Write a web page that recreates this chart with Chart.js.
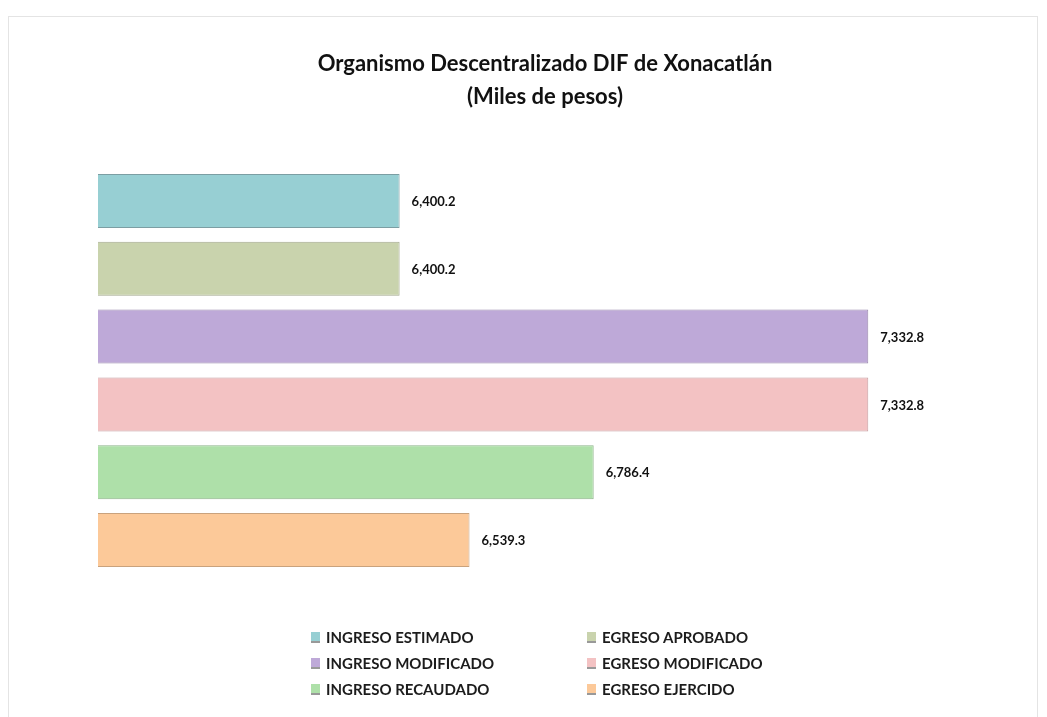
<!DOCTYPE html>
<html>
<head>
<meta charset="utf-8">
<script src="https://cdn.jsdelivr.net/npm/chart.js@4/dist/chart.umd.min.js"></script>
<style>
  body { margin: 0; background: #fff; }
  #wrap { position: relative; width: 1047px; height: 717px; }
  #frame { position: absolute; left: 8px; top: 16px; width: 1030px; height: 710px; border: 1px solid #e4e4e4; box-sizing: border-box; }
  #chart { position: absolute; left: 0; top: 0; }
  #legend { position: absolute; left: 311px; top: 628px; display: grid; grid-template-columns: 276px 200px; row-gap: 8px;
            font-family: Lato, "Open Sans", sans-serif; font-weight: bold; font-size: 15px; color: #1c1c1c; }
  #legend span.box { display: inline-block; width: 9px; height: 9px; margin-right: 6px; vertical-align: 0px; border-bottom: 2px solid #999; }
</style>
</head>
<body>
<div id="wrap">
  <div id="frame"></div>
  <canvas id="chart" width="1047" height="717"></canvas>
  <div id="legend"></div>
</div>
<script>
// datos
const seriesLabels = ['INGRESO ESTIMADO', 'EGRESO APROBADO', 'INGRESO MODIFICADO', 'EGRESO MODIFICADO', 'INGRESO RECAUDADO', 'EGRESO EJERCIDO'];
const seriesValues = [6400.2, 6400.2, 7332.8, 7332.8, 6786.4, 6539.3];
const fillColors = ['#97cfd3', '#c9d3ad', '#bea9d8', '#f3c2c3', '#aee0a9', '#fcc999'];
const edgeColors = ['#7c9ea3', '#a3a88f', '#9886ab', '#c39c9e', '#8db38a', '#c9a27d'];
const categories = [''];

const fmt = v => v.toLocaleString('en-US', { minimumFractionDigits: 1, maximumFractionDigits: 1 });

// etiquetas de valor al final de cada barra
const valueLabels = {
    id: 'valueLabels',
    afterDatasetsDraw(chart) {
        const ctx = chart.ctx;
        ctx.save();
        ctx.font = 'bold 13px Lato, "Open Sans", sans-serif';
        ctx.fillStyle = '#111';
        ctx.textBaseline = 'middle';
        chart.data.datasets.forEach((ds, i) => {
            chart.getDatasetMeta(i).data.forEach((bar, j) => {
                ctx.fillText(fmt(ds.data[j]), bar.x + 12, bar.y + 1);
            });
        });
        ctx.restore();
    }
};

function barFill(i) {
    return function(context) {
        const el = context.element;
        if (!el || !isFinite(el.y) || !isFinite(el.height)) return fillColors[i];
        const top = el.y - el.height / 2;
        const g = context.chart.ctx.createLinearGradient(0, top, 0, top + el.height);
        g.addColorStop(0, '#ffffff');
        g.addColorStop(0.1, fillColors[i]);
        g.addColorStop(0.9, fillColors[i]);
        g.addColorStop(1, edgeColors[i]);
        return g;
    };
}

const datasets = seriesLabels.map((label, i) => ({
    label: label,
    data: [seriesValues[i]],
    backgroundColor: barFill(i),
    borderColor: edgeColors[i],
    borderWidth: 1,
    barPercentage: 0.796,
    categoryPercentage: 1.0,
}));

new Chart(document.getElementById('chart').getContext('2d'), {
    type: 'bar',
    data: { labels: categories, datasets: datasets },
    options: {
        indexAxis: 'y',
        responsive: false,
        animation: false,
        layout: { padding: { left: 98, right: 55, top: 0, bottom: 143 } },
        plugins: {
            legend: { display: false },
            tooltip: { enabled: false },
            title: {
                display: true,
                text: ['Organismo Descentralizado DIF de Xonacatlán', '(Miles de pesos)'],
                color: '#111',
                font: { family: 'Lato, "Open Sans", sans-serif', size: 22, weight: 'bold', lineHeight: 1.5 },
                padding: { top: 47, bottom: 54 },
            },
        },
        scales: {
            x: { display: false, min: 5800, max: 7579 },
            y: { display: false },
        },
    },
    plugins: [valueLabels],
});

// leyenda en dos columnas
const legend = document.getElementById('legend');
seriesLabels.forEach((label, i) => {
    const item = document.createElement('div');
    item.innerHTML = '<span class="box" style="background:' + fillColors[i] + '"></span>' + label;
    legend.appendChild(item);
});
</script>
</body>
</html>
